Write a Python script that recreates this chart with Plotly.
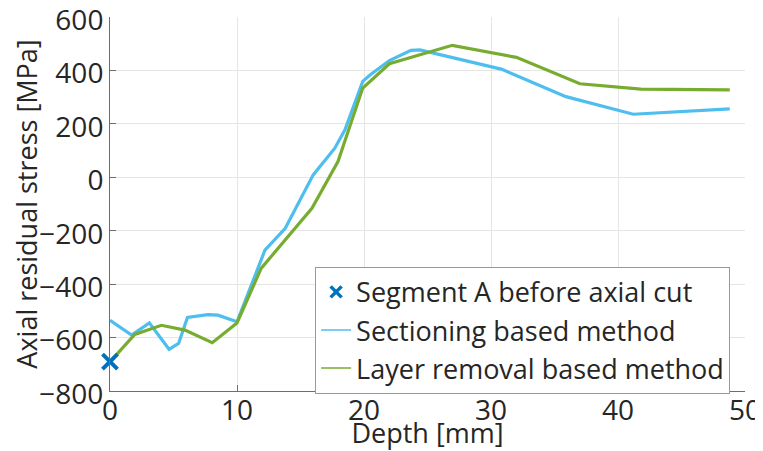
import plotly.graph_objects as go

# Data
sect_depth = [0, 1.7, 3.1, 4.65, 5.4, 6.1, 7.7, 8.5, 10.0, 12.2, 13.8, 16.0, 17.7, 18.5,
              19.9, 20.5, 22.0, 23.7, 24.4, 30.8, 35.9, 41.2, 48.8]
sect_stress = [-535, -591, -545, -644, -622, -525, -514, -516, -541, -273, -191, 9, 109, 178,
               359, 384, 437, 475, 477, 405, 302, 236, 256]

layer_depth = [0, 1.95, 4.05, 5.9, 8.05, 10.0, 11.9, 15.9, 17.95, 19.9, 22.0, 26.95, 32.0,
               37.0, 41.8, 48.8]
layer_stress = [-691, -588, -554, -572, -619, -545, -341, -116, 59, 334, 425, 494, 449,
                350, 330, 327]

segA_depth = [0]
segA_stress = [-690]

x_ticks = [0, 10, 20, 30, 40, 50]
y_ticks = [-800, -600, -400, -200, 0, 200, 400, 600]

names = ["Segment A before axial cut", "Sectioning based method", "Layer removal based method"]

C_MARK = "#0072BD"
C_SECT = "#4DBEEE"
C_LAYER = "#77AC30"
FONT = "Open Sans"
TXT = "#262626"
AX = "#6e6e6e"

fig = go.Figure()
fig.add_trace(go.Scatter(x=sect_depth, y=sect_stress, mode="lines",
                         line=dict(color=C_SECT, width=3.2), showlegend=False))
fig.add_trace(go.Scatter(x=layer_depth, y=layer_stress, mode="lines",
                         line=dict(color=C_LAYER, width=3.2), showlegend=False))
fig.add_trace(go.Scatter(x=segA_depth, y=segA_stress, mode="markers",
                         marker=dict(symbol="x-thin", size=15, color=C_MARK,
                                     line=dict(color=C_MARK, width=4)),
                         showlegend=False, cliponaxis=False))
# legend entries
fig.add_trace(go.Scatter(x=[None], y=[None], mode="markers", name=names[0],
                         marker=dict(symbol="x-thin", size=11, color=C_MARK,
                                     line=dict(color=C_MARK, width=3.5))))
fig.add_trace(go.Scatter(x=[None], y=[None], mode="lines", name=names[1],
                         line=dict(color=C_SECT, width=1.5)))
fig.add_trace(go.Scatter(x=[None], y=[None], mode="lines", name=names[2],
                         line=dict(color=C_LAYER, width=1.5)))

fig.update_layout(
    width=755, height=443,
    margin=dict(l=102, r=18, t=9, b=60),
    paper_bgcolor="white", plot_bgcolor="white",
    font=dict(family=FONT, size=28, color=TXT),
    showlegend=True,
    legend=dict(x=0.323, y=0.332, xanchor="left", yanchor="top",
                bgcolor="white", bordercolor="#999999", borderwidth=1,
                font=dict(family=FONT, size=27, color=TXT),
                itemwidth=30, tracegroupgap=0),
    xaxis=dict(range=[0, 50], tickvals=x_ticks, showgrid=True, gridcolor="#e5e5e5",
               gridwidth=1, zeroline=False, showline=True, linecolor=AX,
               linewidth=1, ticks="inside", ticklen=6, tickcolor=AX,
               ticklabeloverflow="allow", ticklabelstandoff=-6,
               title=dict(text="Depth [mm]", standoff=0, font=dict(size=27)),
               automargin=False),
    yaxis=dict(range=[-800, 600], tickvals=y_ticks, showgrid=True, gridcolor="#e5e5e5",
               gridwidth=1, zeroline=False, showline=True, linecolor=AX,
               linewidth=1, ticks="inside", ticklen=6, tickcolor=AX,
               ticklabeloverflow="allow", ticklabelshift=3,
               title=dict(text="Axial residual stress [MPa]", standoff=0, font=dict(size=27)),
               automargin=False),
)

fig.write_html("out.html")
